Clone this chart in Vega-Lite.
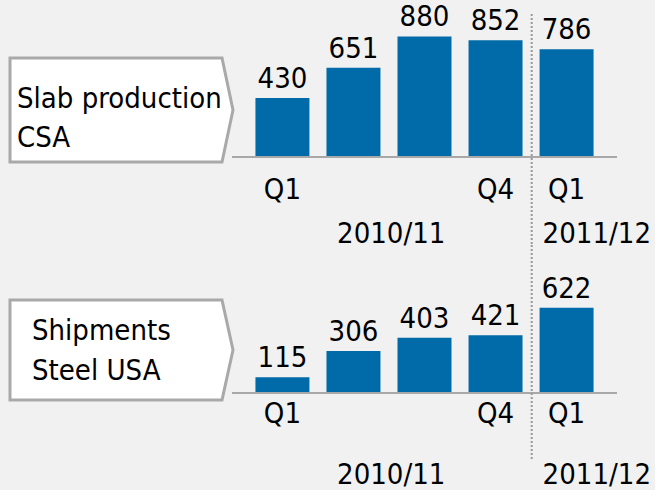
{
  "$schema": "https://vega.github.io/schema/vega-lite/v6.json",
  "background": "#f1f1f1",
  "padding": 0,
  "spacing": 0,
  "bounds": "flush",
  "columns": 3,
  "config": {
    "view": {"stroke": null},
    "font": "DejaVu Sans Condensed",
    "text": {"font": "DejaVu Sans Condensed", "fontSize": 29, "color": "#000000"},
    "concat": {"spacing": 0}
  },
  "datasets": {
    "slab": [
      {"period": "2010/11 Q1", "q": "Q1", "value": 430},
      {"period": "2010/11 Q2", "q": "", "value": 651},
      {"period": "2010/11 Q3", "q": "", "value": 880},
      {"period": "2010/11 Q4", "q": "Q4", "value": 852},
      {"period": "2011/12 Q1", "q": "Q1", "value": 786}
    ],
    "ship": [
      {"period": "2010/11 Q1", "q": "Q1", "value": 115},
      {"period": "2010/11 Q2", "q": "", "value": 306},
      {"period": "2010/11 Q3", "q": "", "value": 403},
      {"period": "2010/11 Q4", "q": "Q4", "value": 421},
      {"period": "2011/12 Q1", "q": "Q1", "value": 622}
    ],
    "years": [
      {"period": "2010/11 Q2", "year": "2010/11"},
      {"period": "2011/12 Q1", "year": "2011/12"}
    ],
    "divider": [
      {"period": "2010/11 Q4"}
    ],
    "callouts": [
      {"panel": "top", "label": "Slab production\nCSA"},
      {"panel": "bottom", "label": "Shipments\nSteel USA"}
    ]
  },
  "concat": [
    {
      "width": 232,
      "height": 245,
      "data": {"name": "callouts"},
      "transform": [{"filter": "datum.panel == 'top'"}],
      "layer": [
        {
          "mark": {"type": "point", "shape": "M-2.144,-1L1.933,-1L2.144,0L1.933,1L-2.144,1Z", "size": 10816, "filled": true, "fill": "#ffffff", "stroke": "#a9a9a9", "strokeWidth": 3, "opacity": 1},
          "encoding": {
            "x": {"datum": 0.5237, "type": "quantitative", "scale": {"domain": [0, 1], "nice": false, "zero": false}, "axis": null},
            "y": {"datum": 0.551, "type": "quantitative", "scale": {"domain": [0, 1], "nice": false, "zero": false}, "axis": null}
          }
        },
        {
          "mark": {"type": "text", "align": "left", "baseline": "alphabetic", "lineBreak": "\n", "lineHeight": 39},
          "encoding": {
            "x": {"datum": 0.0733, "type": "quantitative"},
            "y": {"datum": 0.559, "type": "quantitative"},
            "text": {"field": "label"}
          }
        }
      ]
    },
    {
      "width": 385,
      "height": 245,
      "data": {"name": "slab"},
      "layer": [
        {
          "mark": {"type": "bar", "color": "#006ba8"},
          "encoding": {
            "x": {"field": "period", "type": "nominal", "scale": {"domain": ["2010/11 Q1", "2010/11 Q2", "2010/11 Q3", "2010/11 Q4", "2011/12 Q1"], "paddingInner": 0.24, "paddingOuter": 0.33}, "axis": null},
            "y": {"field": "value", "type": "quantitative", "scale": {"domain": [-642, 1146], "nice": false, "zero": false}, "axis": null},
            "y2": {"datum": 0}
          }
        },
        {
          "data": {"values": [{}]},
          "mark": {"type": "rule", "color": "#a8a8a8", "strokeWidth": 2},
          "encoding": {"y": {"datum": 0, "type": "quantitative"}}
        },
        {
          "mark": {"type": "text", "baseline": "alphabetic", "dy": -10},
          "encoding": {
            "x": {"field": "period", "type": "nominal"},
            "y": {"field": "value", "type": "quantitative"},
            "text": {"field": "value"}
          }
        },
        {
          "mark": {"type": "text", "baseline": "alphabetic"},
          "encoding": {
            "x": {"field": "period", "type": "nominal"},
            "y": {"datum": -307, "type": "quantitative"},
            "text": {"field": "q"}
          }
        },
        {
          "data": {"name": "years"},
          "transform": [{"filter": "datum.year == '2010/11'"}],
          "mark": {"type": "text", "baseline": "alphabetic"},
          "encoding": {
            "x": {"field": "period", "type": "nominal", "bandPosition": 1.2},
            "y": {"datum": -628, "type": "quantitative"},
            "text": {"field": "year"}
          }
        },
        {
          "data": {"name": "years"},
          "transform": [{"filter": "datum.year == '2011/12'"}],
          "mark": {"type": "text", "baseline": "alphabetic"},
          "encoding": {
            "x": {"field": "period", "type": "nominal", "bandPosition": 1.06},
            "y": {"datum": -628, "type": "quantitative"},
            "text": {"field": "year"}
          }
        },
        {
          "data": {"name": "divider"},
          "mark": {"type": "rule", "color": "#999999", "strokeWidth": 2, "strokeDash": [2, 2]},
          "encoding": {
            "x": {"field": "period", "type": "nominal", "bandPosition": 1.17},
            "y": {"datum": 1044, "type": "quantitative"},
            "y2": {"datum": -642}
          }
        }
      ]
    },
    {
      "width": 38,
      "height": 245,
      "data": {"values": [{}]},
      "mark": {"type": "point", "opacity": 0},
      "encoding": {}
    },
    {
      "width": 232,
      "height": 245,
      "data": {"name": "callouts"},
      "transform": [{"filter": "datum.panel == 'bottom'"}],
      "layer": [
        {
          "mark": {"type": "point", "shape": "M-2.23,-1L2.01,-1L2.23,0L2.01,1L-2.23,1Z", "size": 10000, "filled": true, "fill": "#ffffff", "stroke": "#a9a9a9", "strokeWidth": 3, "opacity": 1},
          "encoding": {
            "x": {"datum": 0.5237, "type": "quantitative", "scale": {"domain": [0, 1], "nice": false, "zero": false}, "axis": null},
            "y": {"datum": 0.5714, "type": "quantitative", "scale": {"domain": [0, 1], "nice": false, "zero": false}, "axis": null}
          }
        },
        {
          "mark": {"type": "text", "align": "left", "baseline": "alphabetic", "lineBreak": "\n", "lineHeight": 40},
          "encoding": {
            "x": {"datum": 0.1379, "type": "quantitative"},
            "y": {"datum": 0.6122, "type": "quantitative"},
            "text": {"field": "label"}
          }
        }
      ]
    },
    {
      "width": 385,
      "height": 245,
      "data": {"name": "ship"},
      "layer": [
        {
          "mark": {"type": "bar", "color": "#006ba8"},
          "encoding": {
            "x": {"field": "period", "type": "nominal", "scale": {"domain": ["2010/11 Q1", "2010/11 Q2", "2010/11 Q3", "2010/11 Q4", "2011/12 Q1"], "paddingInner": 0.24, "paddingOuter": 0.33}, "axis": null},
            "y": {"field": "value", "type": "quantitative", "scale": {"domain": [-708, 1080], "nice": false, "zero": false}, "axis": null},
            "y2": {"datum": 0}
          }
        },
        {
          "data": {"values": [{}]},
          "mark": {"type": "rule", "color": "#a8a8a8", "strokeWidth": 2},
          "encoding": {"y": {"datum": 0, "type": "quantitative"}}
        },
        {
          "mark": {"type": "text", "baseline": "alphabetic", "dy": -10},
          "encoding": {
            "x": {"field": "period", "type": "nominal"},
            "y": {"field": "value", "type": "quantitative"},
            "text": {"field": "value"}
          }
        },
        {
          "mark": {"type": "text", "baseline": "alphabetic"},
          "encoding": {
            "x": {"field": "period", "type": "nominal"},
            "y": {"datum": -219, "type": "quantitative"},
            "text": {"field": "q"}
          }
        },
        {
          "data": {"name": "years"},
          "transform": [{"filter": "datum.year == '2010/11'"}],
          "mark": {"type": "text", "baseline": "alphabetic"},
          "encoding": {
            "x": {"field": "period", "type": "nominal", "bandPosition": 1.2},
            "y": {"datum": -664, "type": "quantitative"},
            "text": {"field": "year"}
          }
        },
        {
          "data": {"name": "years"},
          "transform": [{"filter": "datum.year == '2011/12'"}],
          "mark": {"type": "text", "baseline": "alphabetic"},
          "encoding": {
            "x": {"field": "period", "type": "nominal", "bandPosition": 1.06},
            "y": {"datum": -664, "type": "quantitative"},
            "text": {"field": "year"}
          }
        },
        {
          "data": {"name": "divider"},
          "mark": {"type": "rule", "color": "#999999", "strokeWidth": 2, "strokeDash": [2, 2]},
          "encoding": {
            "x": {"field": "period", "type": "nominal", "bandPosition": 1.17},
            "y": {"datum": 1080, "type": "quantitative"},
            "y2": {"datum": -489}
          }
        }
      ]
    },
    {
      "width": 38,
      "height": 245,
      "data": {"values": [{}]},
      "mark": {"type": "point", "opacity": 0},
      "encoding": {}
    }
  ]
}
